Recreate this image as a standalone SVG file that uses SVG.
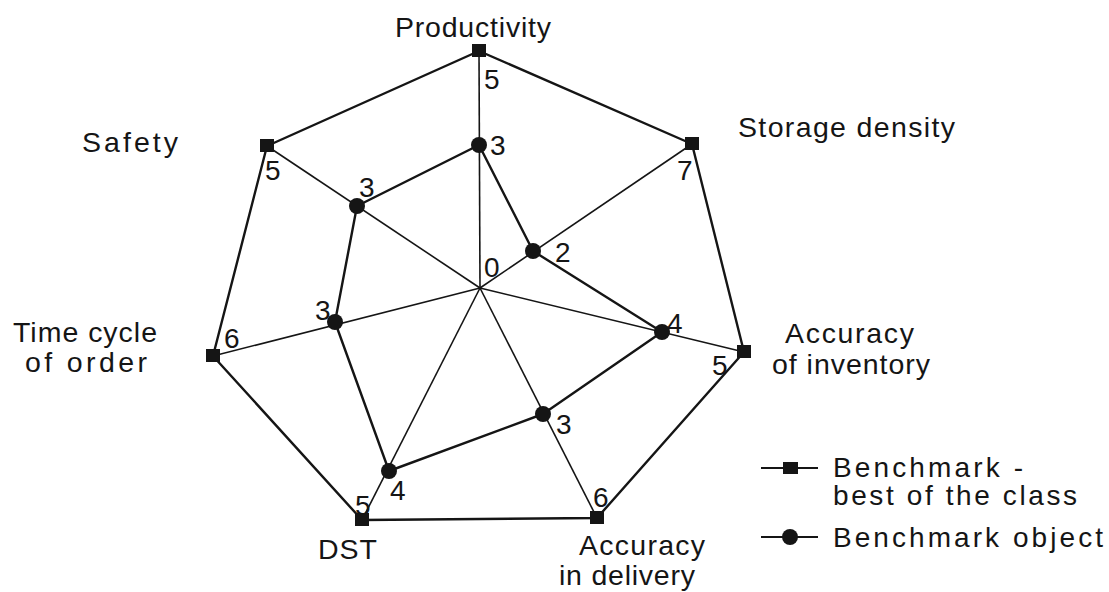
<svg xmlns="http://www.w3.org/2000/svg" width="1109" height="592" viewBox="0 0 1109 592">
<style>
text{font-family:"Liberation Sans",Arial,sans-serif;fill:#151515}
.lbl{font-size:28.5px}
.num{font-size:28px}
.lg{font-size:28px}
.poly{fill:none;stroke:#151515;stroke-width:2.4;stroke-linejoin:round}
.spoke{stroke:#151515;stroke-width:1.6}
.sq{fill:#151515}
.dot{fill:#151515}
</style>
<rect width="1109" height="592" fill="#fff"/>
<g id="connectors">
<g class="spokes">
<line class="spoke" x1="480" y1="288" x2="479" y2="51"/>
<line class="spoke" x1="480" y1="288" x2="692" y2="144"/>
<line class="spoke" x1="480" y1="288" x2="744" y2="352"/>
<line class="spoke" x1="480" y1="288" x2="597" y2="518"/>
<line class="spoke" x1="480" y1="288" x2="362" y2="520"/>
<line class="spoke" x1="480" y1="288" x2="213" y2="356"/>
<line class="spoke" x1="480" y1="288" x2="267" y2="146"/>
</g>
<polygon class="poly" points="479,51 692,144 744,352 597,518 362,520 213,356 267,146"/>
<polygon class="poly" points="479,145 533,251 662,332 543,414 389,471 335,322 357,206"/>
<line class="spoke" x1="761" y1="468" x2="818" y2="468" style="stroke-width:2.2"/>
<line class="spoke" x1="761" y1="537" x2="818" y2="537" style="stroke-width:2.2"/>
</g>
<g id="node-productivity">
<rect class="sq" x="472" y="44" width="14" height="13"/>
<circle class="dot" cx="479" cy="145" r="8"/>
<text class="lbl" x="395" y="37" textLength="156" lengthAdjust="spacing">Productivity</text>
<text class="num" x="484" y="89">5</text>
<text class="num" x="490" y="155">3</text>
</g>
<g id="node-storage">
<rect class="sq" x="685" y="137" width="14" height="13"/>
<circle class="dot" cx="533" cy="251" r="8"/>
<text class="lbl" x="738" y="137" textLength="217" lengthAdjust="spacing">Storage density</text>
<text class="num" x="677" y="180">7</text>
<text class="num" x="555" y="262">2</text>
</g>
<g id="node-inventory">
<rect class="sq" x="737" y="345" width="14" height="13"/>
<circle class="dot" cx="662" cy="332" r="8"/>
<text class="lbl" x="785" y="343" textLength="129" lengthAdjust="spacing">Accuracy</text>
<text class="lbl" x="772" y="374" textLength="158" lengthAdjust="spacing">of inventory</text>
<text class="num" x="667" y="333">4</text>
<text class="num" x="712" y="375">5</text>
</g>
<g id="node-delivery">
<rect class="sq" x="590" y="511" width="14" height="13"/>
<circle class="dot" cx="543" cy="414" r="8"/>
<text class="lbl" x="579" y="555" textLength="126" lengthAdjust="spacing">Accuracy</text>
<text class="lbl" x="559" y="585" textLength="136" lengthAdjust="spacing">in delivery</text>
<text class="num" x="556" y="434">3</text>
<text class="num" x="593" y="507">6</text>
</g>
<g id="node-dst">
<rect class="sq" x="355" y="513" width="14" height="13"/>
<circle class="dot" cx="389" cy="471" r="8"/>
<text class="lbl" x="318" y="559" textLength="59" lengthAdjust="spacing">DST</text>
<text class="num" x="355" y="515">5</text>
<text class="num" x="390" y="500">4</text>
</g>
<g id="node-timecycle">
<rect class="sq" x="206" y="349" width="14" height="13"/>
<circle class="dot" cx="335" cy="322" r="8"/>
<text class="lbl" x="13" y="342" textLength="144" lengthAdjust="spacing">Time cycle</text>
<text class="lbl" x="25" y="372" textLength="122" lengthAdjust="spacing">of order</text>
<text class="num" x="224" y="348">6</text>
<text class="num" x="315" y="320">3</text>
</g>
<g id="node-safety">
<rect class="sq" x="260" y="139" width="14" height="13"/>
<circle class="dot" cx="357" cy="206" r="8"/>
<text class="lbl" x="82" y="152" textLength="96" lengthAdjust="spacing">Safety</text>
<text class="num" x="265" y="180">5</text>
<text class="num" x="359" y="197">3</text>
</g>
<g id="node-center">
<text class="num" x="484" y="277">0</text>
</g>
<g id="legend">
<rect class="sq" x="783" y="462" width="15" height="12"/>
<circle class="dot" cx="790" cy="537" r="8"/>
<text class="lg" x="833" y="477" textLength="190" lengthAdjust="spacing">Benchmark -</text>
<text class="lg" x="833" y="505" textLength="244" lengthAdjust="spacing">best of the class</text>
<text class="lg" x="833" y="547" textLength="270" lengthAdjust="spacing">Benchmark object</text>
</g>
</svg>
